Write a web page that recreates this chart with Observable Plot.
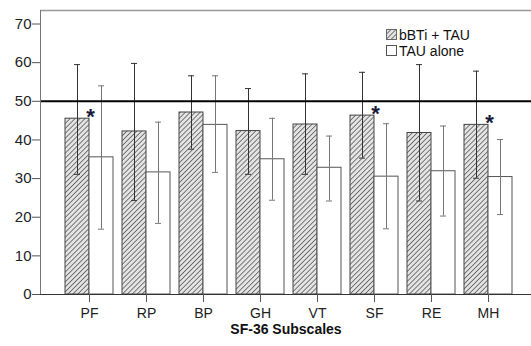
<!DOCTYPE html>
<html><head><meta charset="utf-8">
<script src="https://cdn.jsdelivr.net/npm/d3@7"></script>
<script src="https://cdn.jsdelivr.net/npm/@observablehq/plot@0.6"></script>
<style>
html,body{margin:0;padding:0;overflow:hidden;background:#fff;font-family:Arial,"Liberation Sans",sans-serif}
#wrap{position:relative;width:531px;height:346px;overflow:hidden}
#wrap > svg{display:block}
#legend{position:absolute;left:386px;top:27px;font-size:14px;line-height:16px;color:#111}
#legend div{display:flex;align-items:center;height:16px}
#legend svg{margin-right:1px}
</style></head><body><div id="wrap"><div id="legend"></div></div>
<script>
const subscales = ["PF","RP","BP","GH","VT","SF","RE","MH"];
const groups = ["bBTi + TAU","TAU alone"];
const bbtiMean = [45.5,42.2,47.1,42.3,44.0,46.3,41.8,43.9];
const bbtiLow  = [31.1,24.3,37.6,31.1,31.1,35.3,24.2,30.1];
const bbtiHigh = [59.5,59.8,56.6,53.3,57.1,57.5,59.5,57.8];
const tauMean  = [35.5,31.6,43.9,35.0,32.8,30.5,31.9,30.4];
const tauLow   = [16.9,18.4,31.6,24.4,24.2,17.0,20.3,20.7];
const tauHigh  = [54.0,44.6,56.6,45.6,41.0,44.2,43.6,40.1];
const significant = ["PF","SF","MH"];
const yTicks = [0,10,20,30,40,50,60,70];
const refValue = 50;
const axisTitle = "SF-36 Subscales";

const bbti = subscales.map((s,i)=>({subscale:s, mean:bbtiMean[i], low:bbtiLow[i], high:bbtiHigh[i]}));
const tau  = subscales.map((s,i)=>({subscale:s, mean:tauMean[i], low:tauLow[i], high:tauHigh[i]}));
const stars = bbti.filter(d=>significant.includes(d.subscale));

const chart = Plot.plot({
  width:531, height:346,
  marginLeft:40, marginRight:0, marginTop:10, marginBottom:52,
  style:{fontFamily:"Arial, 'Liberation Sans', sans-serif", background:"#fff", color:"#111"},
  x:{domain:subscales, range:[65,512], paddingInner:9/57, paddingOuter:0, label:null},
  y:{domain:[0,73.5], label:null},
  marks:[
    Plot.rectY(bbti,{x:"subscale", y:"mean", insetRight:24, fill:"url(#hatch)", stroke:"#444", strokeWidth:1}),
    Plot.rectY(tau,{x:"subscale", y:"mean", insetLeft:24, fill:"#fff", stroke:"#555", strokeWidth:1}),
    Plot.ruleX(bbti,{x:"subscale", y1:"low", y2:"high", dx:-12, stroke:"#333", strokeWidth:1}),
    Plot.tickY(bbti,{x:"subscale", y:"high", dx:-12, insetLeft:21, insetRight:21, stroke:"#333"}),
    Plot.tickY(bbti,{x:"subscale", y:"low", dx:-12, insetLeft:21, insetRight:21, stroke:"#333"}),
    Plot.ruleX(tau,{x:"subscale", y1:"low", y2:"high", dx:12, stroke:"#777", strokeWidth:1}),
    Plot.tickY(tau,{x:"subscale", y:"high", dx:12, insetLeft:21, insetRight:21, stroke:"#777"}),
    Plot.tickY(tau,{x:"subscale", y:"low", dx:12, insetLeft:21, insetRight:21, stroke:"#777"}),
    Plot.ruleY([refValue],{stroke:"#000", strokeWidth:2}),
    Plot.ruleY([73.5],{stroke:"#999", strokeWidth:1.5}),
    Plot.frame({anchor:"left", stroke:"#777"}),
    Plot.ruleY([0],{stroke:"#333"}),
    Plot.text(stars,{x:"subscale", y:"mean", text:()=>"*", dx:1, dy:-2, fontSize:22, fontWeight:"bold", fill:"#1a1a3a", lineAnchor:"middle"}),
    Plot.axisY({ticks:yTicks, tickSize:8, tickPadding:1, fontSize:15, stroke:"#555", fill:"#222", label:null}),
    Plot.axisX({tickSize:8, tickPadding:6, fontSize:14, stroke:"#555", fill:"#222", label:null}),
    Plot.text([axisTitle],{frameAnchor:"bottom", dy:39, fontSize:14, fontWeight:"bold", fill:"#111"})
  ]
});

d3.select(chart).insert("defs",":first-child").html(
  `<pattern id="hatch" width="3.5" height="3.5" patternUnits="userSpaceOnUse" patternTransform="rotate(45)">
     <rect width="3.5" height="3.5" fill="#e4e4e4"/>
     <line x1="0" y1="0" x2="0" y2="3.5" stroke="#3a3a3a" stroke-width="1.3"/>
   </pattern>`);
document.getElementById("wrap").prepend(chart);

const legend = document.getElementById("legend");
legend.style.zIndex = 2;
groups.forEach((g,i)=>{
  const row = document.createElement("div");
  row.innerHTML = `<svg width="12" height="12"><rect x="0.5" y="0.5" width="10" height="10" fill="${i===0?"url(#hatch)":"#fff"}" stroke="${i===0?"#666":"#555"}"/></svg><span>${g}</span>`;
  legend.appendChild(row);
});
</script>
</body></html>
